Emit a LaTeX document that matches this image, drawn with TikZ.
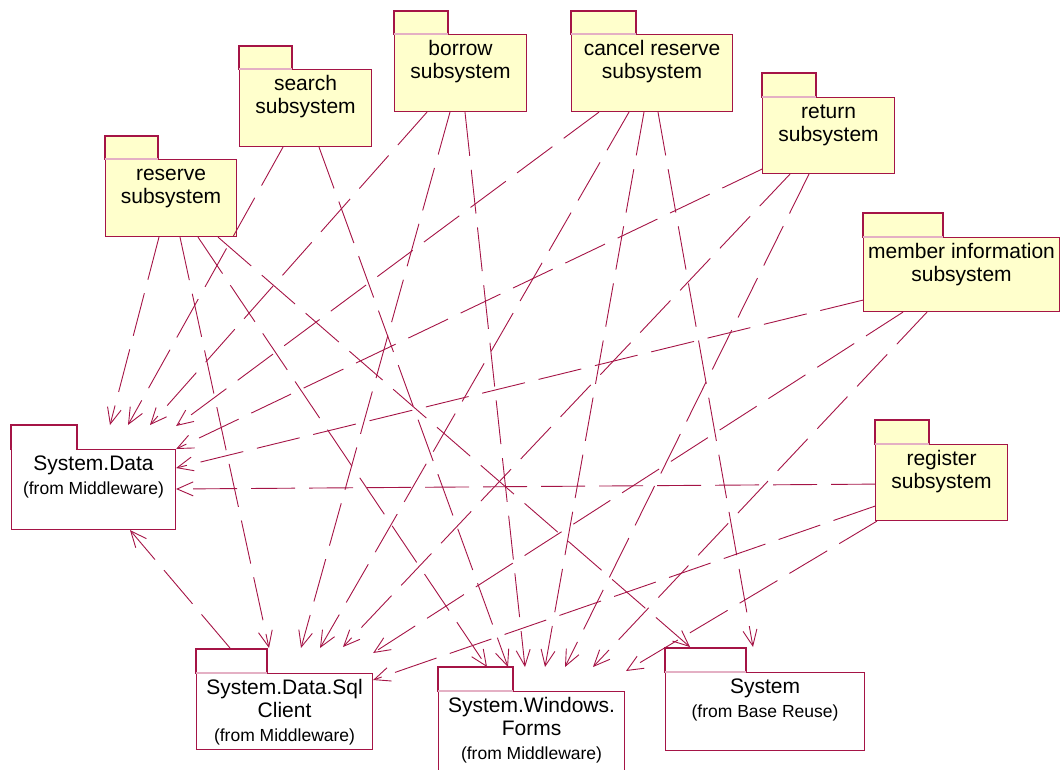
\documentclass[tikz,border=0pt]{standalone}
\usepackage{fontspec}
\setmainfont{Liberation Sans}
\usetikzlibrary{arrows.meta}
\definecolor{RoseRed}{RGB}{165, 20, 70}
\definecolor{RoseFaint}{RGB}{228, 176, 196}
\definecolor{NoteYellow}{RGB}{255, 255, 204}

\newcommand{\pkgtext}[3]{%
  \begin{minipage}[c][#2][t]{#1}\centering
    \vspace*{4pt}\strut #3
  \end{minipage}}
\newcommand{\fromline}[1]{\par\fontsize{17.5}{24}\selectfont #1\par}

\tikzset{
  pkg/.style={draw=RoseRed, line width=1.1pt, fill=white, inner sep=0pt,
    anchor=north west, font=\fontsize{21}{23.5}\selectfont},
  subsys/.style={pkg, fill=NoteYellow},
  pkgtab/.style={draw=RoseRed, line width=1.1pt, fill=white},
  subtab/.style={pkgtab, fill=NoteYellow},
  tabline/.style={draw=RoseFaint, line width=1.1pt},
  dep/.style={draw=RoseRed, line width=0.9pt, dash pattern=on 44pt off 14pt,
    -{Straight Barb[length=16pt,width=14pt]}}
}

\begin{document}
\begin{tikzpicture}[x=1pt, y=-1pt]
    \useasboundingbox (0,0) rectangle (1061,769);
    \clip (0,0) rectangle (1061,769);

    % subsystems
    \node[subsys] (reserve) at (105,159) {\pkgtext{131pt}{77pt}{reserve\\subsystem}};
    \draw[subtab] (reserve.north west) rectangle ++(53,-23);
    \draw[tabline] (reserve.north west) -- ++(53,0);

    \node[subsys] (search) at (239,69) {\pkgtext{132pt}{77pt}{search\\subsystem}};
    \draw[subtab] (search.north west) rectangle ++(53,-23);
    \draw[tabline] (search.north west) -- ++(53,0);

    \node[subsys] (borrow) at (394,34) {\pkgtext{132pt}{77pt}{borrow\\subsystem}};
    \draw[subtab] (borrow.north west) rectangle ++(54,-23);
    \draw[tabline] (borrow.north west) -- ++(54,0);

    \node[subsys] (cancel) at (571,34) {\pkgtext{161pt}{77pt}{cancel reserve\\subsystem}};
    \draw[subtab] (cancel.north west) rectangle ++(65,-23);
    \draw[tabline] (cancel.north west) -- ++(65,0);

    \node[subsys] (return) at (762,97) {\pkgtext{132pt}{76pt}{return\\subsystem}};
    \draw[subtab] (return.north west) rectangle ++(54,-24);
    \draw[tabline] (return.north west) -- ++(54,0);

    \node[subsys] (member) at (863,237) {\pkgtext{196pt}{74pt}{member information\\subsystem}};
    \draw[subtab] (member.north west) rectangle ++(80,-24);
    \draw[tabline] (member.north west) -- ++(80,0);

    \node[subsys] (register) at (875,444) {\pkgtext{132pt}{76pt}{register\\subsystem}};
    \draw[subtab] (register.north west) rectangle ++(54,-24);
    \draw[tabline] (register.north west) -- ++(54,0);

    % library packages
    \node[pkg] (data) at (11,449) {\pkgtext{164pt}{80pt}{System.Data\fromline{(from Middleware)}}};
    \draw[pkgtab] (data.north west) rectangle ++(66,-24);
    \draw[white, line width=1.2pt] ([xshift=0.6pt]data.north west) -- ++(64.8,0);

    \node[pkg] (sql) at (196,673) {\pkgtext{176pt}{76pt}{System.Data.Sql\\Client\fromline{(from Middleware)}}};
    \draw[pkgtab] (sql.north west) rectangle ++(71,-24);
    \draw[tabline] (sql.north west) -- ++(71,0);

    \node[pkg] (forms) at (438,691) {\pkgtext{186pt}{95pt}{System.Windows.\\Forms\fromline{(from Middleware)}}};
    \draw[pkgtab] (forms.north west) rectangle ++(75,-24);
    \draw[tabline] (forms.north west) -- ++(75,0);

    \node[pkg] (system) at (665,672) {\pkgtext{199pt}{78pt}{System\fromline{(from Base Reuse)}}};
    \draw[pkgtab] (system.north west) rectangle ++(81,-24);
    \draw[tabline] (system.north west) -- ++(81,0);

    % dependencies
    \draw[dep] ([xshift=54pt]reserve.south west) -- ([xshift=99pt,yshift=24pt]data.north west);
    \draw[dep] ([xshift=75pt]reserve.south west) -- ([xshift=73pt,yshift=25pt]sql.north west);
    \draw[dep] ([xshift=93pt]reserve.south west) -- ([xshift=49pt,yshift=24pt]forms.north west);
    \draw[dep] ([xshift=113pt]reserve.south west) -- ([xshift=25pt,yshift=25pt]system.north west);

    \draw[dep] ([xshift=44pt]search.south west) -- ([xshift=117pt,yshift=24pt]data.north west);
    \draw[dep] ([xshift=80pt]search.south west) -- ([xshift=70pt,yshift=24pt]forms.north west);

    \draw[dep] ([xshift=33pt]borrow.south west) -- ([xshift=139pt,yshift=24pt]data.north west);
    \draw[dep] ([xshift=56pt]borrow.south west) -- ([xshift=105pt,yshift=25pt]sql.north west);
    \draw[dep] ([xshift=71pt]borrow.south west) -- ([xshift=87pt,yshift=24pt]forms.north west);

    \draw[dep] ([xshift=28pt]cancel.south west) -- ([yshift=23pt]data.north east);
    \draw[dep] ([xshift=58pt]cancel.south west) -- ([xshift=124pt,yshift=25pt]sql.north west);
    \draw[dep] ([xshift=73pt]cancel.south west) -- ([xshift=107pt,yshift=24pt]forms.north west);
    \draw[dep] ([xshift=87pt]cancel.south west) -- ([xshift=88pt,yshift=25pt]system.north west);

    \draw[dep] ([yshift=5pt]return.south west) -- (data.north east);
    \draw[dep] ([xshift=28pt]return.south west) -- ([xshift=147pt,yshift=26pt]sql.north west);
    \draw[dep] ([xshift=47pt]return.south west) -- ([xshift=127pt,yshift=24pt]forms.north west);

    \draw[dep] ([yshift=12pt]member.south west) -- ([yshift=-19pt]data.north east);
    \draw[dep] ([xshift=40pt]member.south west) -- ([yshift=20pt]sql.north east);
    \draw[dep] ([xshift=64pt]member.south west) -- ([xshift=155pt,yshift=24pt]forms.north west);

    \draw[dep] ([yshift=37pt]register.south west) -- ([yshift=-40pt]data.north east);
    \draw[dep] ([yshift=15pt]register.south west) -- ([yshift=-7pt]sql.north east);
    \draw[dep] ([xshift=2pt]register.south west) -- ([xshift=188pt,yshift=20pt]forms.north west);

    \draw[dep] ([xshift=34pt,yshift=25pt]sql.north west) -- ([xshift=119pt]data.south west);
\end{tikzpicture}
\end{document}
